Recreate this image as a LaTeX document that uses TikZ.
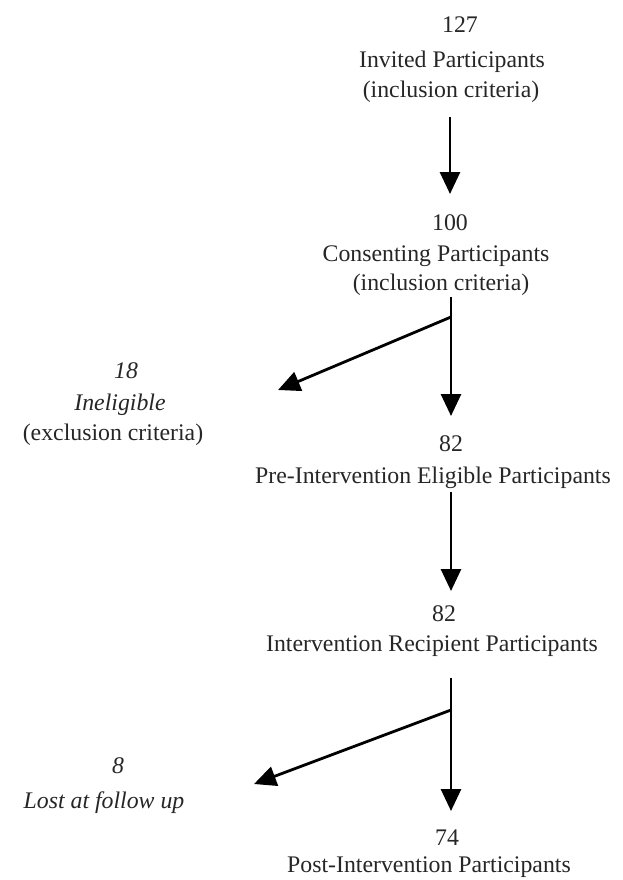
\documentclass[tikz,border=0pt]{standalone}
\usepackage{fontspec}
\setmainfont{Liberation Serif}
\usetikzlibrary{arrows.meta}
\begin{document}
\begin{tikzpicture}[x=1pt,y=-1pt,
  lbl/.style={anchor=base,inner sep=0pt,font=\fontsize{23.8}{27.5}\selectfont,text=black!85},
  ilbl/.style={lbl,font=\fontsize{23.8}{27.5}\selectfont\itshape},
  arr/.style={line width=2.8pt,-{Triangle[width=20pt,length=22pt]}}]
\useasboundingbox (0,0) rectangle (623,880);
% block 1
\node[lbl] (a1t) at (460,33) {127};
\node[lbl] (a2t) at (452,68) {Invited Participants};
\node[lbl] (a3t) at (451,98) {(inclusion criteria)};
% block 2
\node[lbl] (b1t) at (450,230) {100};
\node[lbl] (b2t) at (436,261) {Consenting Participants};
\node[lbl] (b3t) at (441,290) {(inclusion criteria)};
% excluded
\node[ilbl] (c1t) at (126,378) {18};
\node[ilbl] (c2t) at (120,410) {Ineligible};
\node[lbl] (c3t) at (113,440) {(exclusion criteria)};
% block 3
\node[lbl] (d1t) at (451,451) {82};
\node[lbl] (d2t) at (433,483) {Pre-Intervention Eligible Participants};
% block 4
\node[lbl] (e1t) at (444,621) {82};
\node[lbl] (e2t) at (432,651) {Intervention Recipient Participants};
% lost
\node[ilbl] (f1t) at (118,773) {8};
\node[ilbl] (f2t) at (104,808) {Lost at follow up};
% block 5
\node[lbl] (g1t) at (447,845) {74};
\node[lbl] (g2t) at (429,872) {Post-Intervention Participants};
% connectors
\coordinate (p1) at (450,117);
\coordinate (p2) at (450,194);
\coordinate (q1) at (451,297);
\coordinate (q2) at (451,317);
\coordinate (q3) at (451,416);
\coordinate (q4) at (278,390);
\coordinate (r1) at (451,492);
\coordinate (r2) at (451,591);
\coordinate (s1) at (451,678);
\coordinate (s2) at (451,710);
\coordinate (s3) at (451,811);
\coordinate (s4) at (254,784);
\draw[arr] (p1) -- (p2);
\draw[arr] (q1) -- (q3);
\draw[arr] (q2) -- (q4);
\draw[arr] (r1) -- (r2);
\draw[arr] (s1) -- (s3);
\draw[arr] (s2) -- (s4);
\end{tikzpicture}
\end{document}
